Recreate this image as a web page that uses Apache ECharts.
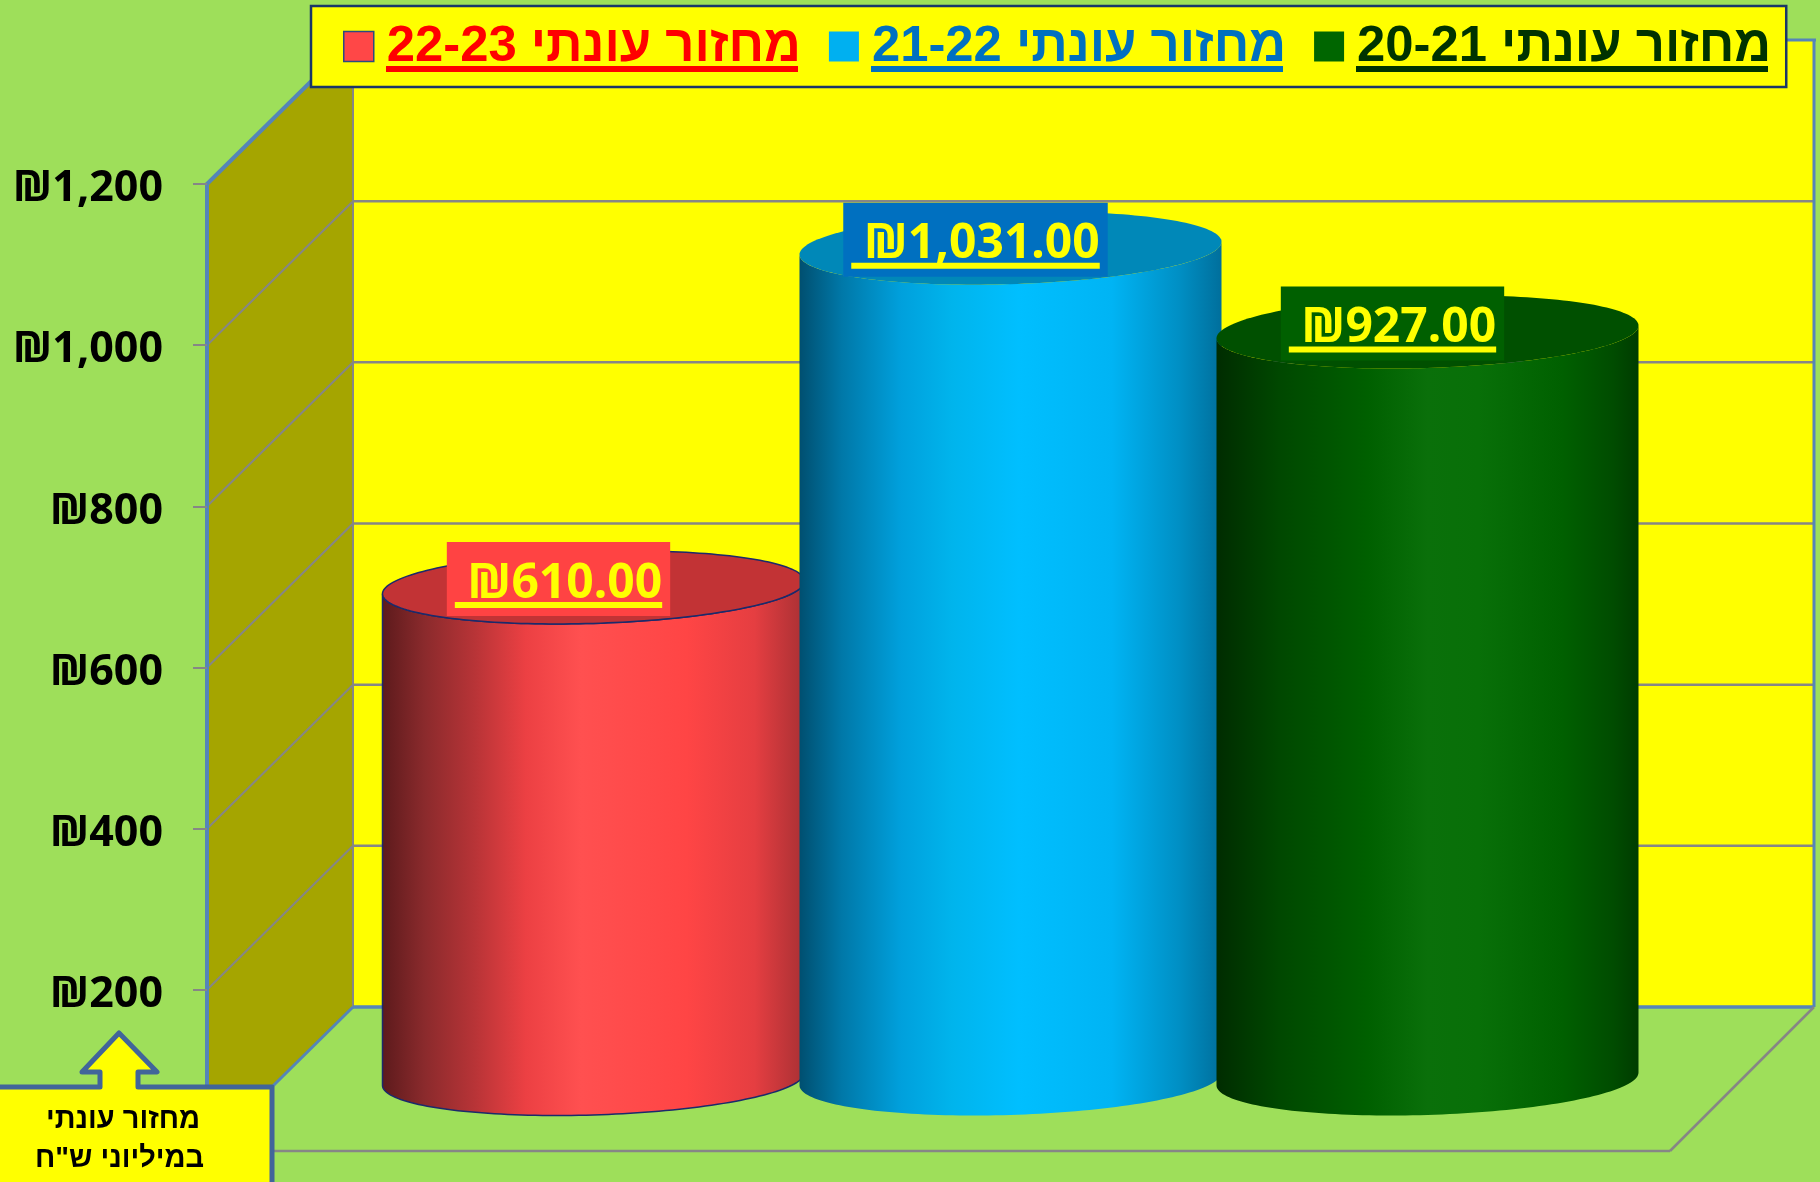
<!DOCTYPE html>
<html lang="he">
<head>
<meta charset="utf-8">
<style>html,body{margin:0;padding:0;background:#9EDF5A}#c{width:1820px;height:1182px}</style>
<script src="https://cdn.jsdelivr.net/npm/echarts@6/dist/echarts.min.js"></script>
</head>
<body>
<div id="c"></div>
<script>
const categories = ['מחזור עונתי 22-23', 'מחזור עונתי 21-22', 'מחזור עונתי 20-21'];
const seriesValues = [610, 1031, 927];
const axisTicks = [0, 200, 400, 600, 800, 1000, 1200];
const calloutLines = ['מחזור עונתי', 'במיליוני ש"ח'];

const legendColors = ['#FF4747', '#00B0F0', '#006600'];
const legendTextColors = ['#FF0000', '#0070C0', '#003300'];
const labelBoxColors = ['#FF4343', '#0070C0', '#006000'];
const topColors = ['#C23335', '#0088B8', '#005000'];
const sideStops = [
  [[0,'#5C1A1C'],[.1,'#8A2A2C'],[.22,'#B83437'],[.34,'#EC4043'],[.47,'#FF5050'],[.72,'#FF4545'],[.88,'#E53E41'],[1,'#A83034']],
  [[0,'#004F70'],[.1,'#0078A8'],[.24,'#00A0DC'],[.36,'#00B4EC'],[.52,'#00BFFF'],[.74,'#00B4F4'],[.9,'#008FC4'],[1,'#006F9C']],
  [[0,'#002C00'],[.15,'#004800'],[.36,'#006000'],[.5,'#0A700A'],[.62,'#087008'],[.82,'#006000'],[.94,'#004C00'],[1,'#003C00']]
];

const DX = 146, DY = -144;           // depth of the floor in pixels
const WALL_BLUE = '#5585B8', GRID_GREY = '#868686';
const FRONT_LEFT = 207, FRONT_RIGHT = 1670;
const VALUE_FONT = 'bold 48px "Noto Sans"';

const measure = document.createElement('canvas').getContext('2d');
function textWidth(t, font) { measure.font = font; return measure.measureText(t).width; }
function money(v, digits) {
  return '₪' + v.toLocaleString('en-US', {minimumFractionDigits: digits, maximumFractionDigits: digits});
}

function line(x1, y1, x2, y2, stroke, w, z2) {
  return {type: 'line', shape: {x1, y1, x2, y2}, style: {stroke, lineWidth: w}, z2: z2 || 1};
}

function renderWalls(params, api) {
  const y0 = api.coord([0, 0])[1];
  const yMax = api.coord([0, axisTicks[axisTicks.length - 1]])[1];
  const backL = FRONT_LEFT + DX, backR = FRONT_RIGHT + DX - 2;
  const kids = [];
  kids.push({type: 'rect', shape: {x: backL, y: yMax + DY, width: backR - backL, height: y0 - yMax},
    style: {fill: '#FFFF00'}, z2: 0});
  kids.push({type: 'polygon', shape: {points: [[FRONT_LEFT, y0], [FRONT_LEFT, yMax], [backL, yMax + DY], [backL, y0 + DY]]},
    style: {fill: '#A5A500'}, z2: 0});
  axisTicks.forEach(function (t) {
    if (t === 0 || t === axisTicks[axisTicks.length - 1]) return;
    const y = api.coord([0, t])[1];
    kids.push(line(FRONT_LEFT, y, backL, y + DY, GRID_GREY, 2));
    kids.push(line(backL, y + DY, backR, y + DY, GRID_GREY, 2.5));
  });
  kids.push(line(backL, yMax + DY, backL, y0 + DY, GRID_GREY, 2));
  kids.push(line(FRONT_LEFT, yMax, backL, yMax + DY, WALL_BLUE, 4, 2));
  kids.push(line(backL, yMax + DY, backR + 2, yMax + DY, WALL_BLUE, 3, 2));
  kids.push(line(backR, yMax + DY, backR, y0 + DY, WALL_BLUE, 3, 2));
  kids.push(line(backL, y0 + DY, backR, y0 + DY, WALL_BLUE, 3.5, 2));
  kids.push(line(FRONT_LEFT, y0, backL, y0 + DY, WALL_BLUE, 3, 2));
  kids.push(line(FRONT_LEFT, y0, FRONT_RIGHT, y0, GRID_GREY, 2.5, 2));
  kids.push(line(FRONT_RIGHT, y0, backR, y0 + DY, GRID_GREY, 2.5, 2));
  return {type: 'group', children: kids};
}

const ELL_B = 37, ELL_C = 36.5, ELL_A = Math.sqrt(211 * 211 - ELL_B * ELL_B);
function ellipsePoint(cx, cy, t) {
  return [cx + ELL_A * Math.cos(t) + ELL_B * Math.sin(t), cy - ELL_C * Math.sin(t)];
}
const EXTREME = Math.atan2(ELL_B, ELL_A);

function renderCylinder(idx) {
  return function (params, api) {
    const cat = api.value(0), val = api.value(1);
    const top = api.coord([cat, val]), base = api.coord([cat, 0]);
    const cx = top[0] + DX / 2, topY = top[1] + DY / 2, baseY = base[1] + DY / 2;
    const body = [];
    const N = 90;
    for (let i = 0; i <= N; i++) {
      const t = Math.PI + EXTREME + (Math.PI * i) / N;
      body.push(ellipsePoint(cx, baseY, t));
    }
    for (let i = N; i >= 0; i--) {
      const t = Math.PI + EXTREME + (Math.PI * i) / N;
      body.push(ellipsePoint(cx, topY, t));
    }
    const ring = [];
    for (let i = 0; i < 2 * N; i++) ring.push(ellipsePoint(cx, topY, (Math.PI * i) / N));
    const outline = idx === 0 ? {stroke: '#1B2A6B', lineWidth: 1.5} : {};
    const grad = new echarts.graphic.LinearGradient(0, 0, 1, 0,
      sideStops[idx].map(function (s) { return {offset: s[0], color: s[1]}; }));

    const text = ' ' + money(val, 2);
    const w = textWidth(text, VALUE_FONT);
    const boxCx = cx - 35, boxCy = topY - 8.5;
    const kids = [
      {type: 'polygon', shape: {points: body}, style: Object.assign({fill: grad}, outline), z2: 1},
      {type: 'polygon', shape: {points: ring}, style: Object.assign({fill: topColors[idx]}, outline), z2: 2},
      {type: 'rect', shape: {x: boxCx - w / 2 - 8, y: boxCy - 37, width: w + 16, height: 74},
        style: {fill: labelBoxColors[idx]}, z2: 3},
      {type: 'text', style: {text: text, x: boxCx - w / 2, y: boxCy + 5, font: VALUE_FONT, fill: '#FFFF00',
        textAlign: 'left', textVerticalAlign: 'middle'}, z2: 4},
      {type: 'rect', shape: {x: boxCx - w / 2, y: boxCy + 23, width: w, height: 6},
        style: {fill: '#FFFF00'}, z2: 4}
    ];
    return {type: 'group', children: kids};
  };
}

const cylinderSeries = categories.map(function (name, i) {
  return {
    name: name, type: 'custom', z: 3 + i, coordinateSystem: 'cartesian2d',
    itemStyle: {color: legendColors[i]},
    renderItem: renderCylinder(i),
    encode: {x: 0, y: 1},
    data: [[i, seriesValues[i]]]
  };
});

const underlineX = [[386, 412], [871, 412], [1356, 412]];

const graphicEls = underlineX.map(function (u, i) {
  return {type: 'rect', z: 50, shape: {x: u[0], y: 66, width: u[1], height: 6}, style: {fill: legendTextColors[i]}};
}).concat([
  {type: 'polygon', z: 60, shape: {points: [[-10, 1087], [100, 1087], [100, 1072], [82, 1072], [119, 1033], [157, 1072], [138, 1072], [138, 1087], [272, 1087], [272, 1200], [-10, 1200]]},
    style: {fill: '#FFFF00', stroke: '#41659A', lineWidth: 5, lineJoin: 'round'}},
  {type: 'text', z: 61, style: {text: calloutLines[0], x: 123, y: 1120, font: 'bold 29px "Liberation Sans"', fill: '#000', textAlign: 'center', textVerticalAlign: 'middle'}},
  {type: 'text', z: 61, style: {text: calloutLines[1], x: 119.5, y: 1159, font: 'bold 29px "Liberation Sans"', fill: '#000', textAlign: 'center', textVerticalAlign: 'middle'}}
]);

const chart = echarts.init(document.getElementById('c'));
chart.setOption({
  animation: false,
  backgroundColor: '#9EDF5A',
  textStyle: {fontFamily: '"Noto Sans"'},
  grid: {left: 312, right: 1820 - 312 - 1251, top: 184, bottom: 31, containLabel: false},
  xAxis: {type: 'category', data: categories, show: false, boundaryGap: true},
  yAxis: {
    type: 'value', min: 0, max: 1200, interval: 200, offset: 105, z: 5,
    axisLine: {show: true, lineStyle: {color: WALL_BLUE, width: 4}},
    axisTick: {show: true, length: 14, lineStyle: {color: GRID_GREY, width: 2}},
    splitLine: {show: false},
    axisLabel: {margin: 44, color: '#000', fontWeight: 'bold', fontSize: 43, fontFamily: '"Noto Sans"',
      verticalAlign: 'top', lineHeight: 10,
      formatter: function (v) { return money(v, 0); }}
  },
  legend: {
    left: 311, top: 6, orient: 'horizontal', itemGap: 28, itemWidth: 30, itemHeight: 30, z: 20,
    padding: [15, 15, 15, 32],
    backgroundColor: '#FFFF00', borderColor: '#1A3668', borderWidth: 2.5,
    selectedMode: false,
    textStyle: {fontFamily: '"Liberation Sans"', fontWeight: 'bold', fontSize: 50.8, padding: [0, 0, 0, 8]},
    data: categories.map(function (name, i) {
      return {name: name, icon: 'rect',
        itemStyle: i === 0 ? {color: legendColors[i], borderColor: '#2B4A80', borderWidth: 1.5} : {color: legendColors[i], borderWidth: 0},
        textStyle: {color: legendTextColors[i]}};
    })
  },
  graphic: {z: 50, elements: graphicEls},
  series: [{
    name: 'walls', type: 'custom', z: 1, silent: true, coordinateSystem: 'cartesian2d',
    renderItem: renderWalls, encode: {x: 0, y: 1}, data: [[0, 0]]
  }].concat(cylinderSeries)
});
</script>
</body>
</html>
